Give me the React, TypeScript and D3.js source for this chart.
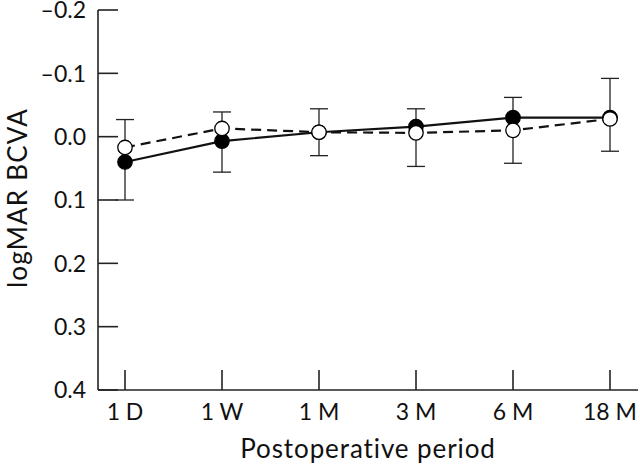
import React from "react";
import * as d3 from "d3";

const categories = ["1 D", "1 W", "1 M", "3 M", "6 M", "18 M"];
const filledSeries = [0.040, 0.007, -0.007, -0.016, -0.030, -0.030];
const openSeries = [0.017, -0.013, -0.007, -0.006, -0.010, -0.028];
const errTop = [-0.027, -0.039, -0.044, -0.044, -0.062, -0.092];
const errBottom = [0.100, 0.056, 0.030, 0.047, 0.042, 0.023];
const yTicks = [-0.2, -0.1, 0.0, 0.1, 0.2, 0.3, 0.4];

const W = 640;
const H = 467;
const left = 98;
const top = 10;
const bottom = 390;
const right = 638;

export default function App() {
  const x = d3.scalePoint<string>().domain(categories).range([125, 610]);
  const y = d3.scaleLinear().domain([-0.2, 0.4]).range([top, bottom]);
  const font = "Lato, 'Noto Sans', sans-serif";

  const line = d3
    .line<number>()
    .x((_, i) => x(categories[i]) as number)
    .y((d) => y(d));

  const fmt = (v: number) => {
    const s = Math.abs(v).toFixed(1);
    return v < 0 ? "\u2013" + s : s;
  };

  return (
    <svg
      width={W}
      height={H}
      style={{ position: "absolute", left: 0, top: 0, background: "#fff" }}
    >
      {/* axes */}
      <line x1={left} x2={left} y1={top} y2={bottom} stroke="#222" strokeWidth={1.6} />
      <line x1={left} x2={right} y1={bottom} y2={bottom} stroke="#222" strokeWidth={1.6} />
      {yTicks.map((t) => (
        <g key={t}>
          <line x1={left} x2={left + 20} y1={y(t)} y2={y(t)} stroke="#222" strokeWidth={1.6} />
          <text
            x={86}
            y={y(t)}
            dy="0.36em"
            textAnchor="end"
            fontFamily={font}
            fontSize={23}
            fill="#111"
          >
            {fmt(t)}
          </text>
        </g>
      ))}
      {categories.map((c) => (
        <g key={c}>
          <line
            x1={x(c)}
            x2={x(c)}
            y1={bottom}
            y2={bottom - 20}
            stroke="#222"
            strokeWidth={1.6}
          />
          <text
            x={x(c)}
            y={420}
            textAnchor="middle"
            fontFamily={font}
            fontSize={23}
            fill="#111"
          >
            {c}
          </text>
        </g>
      ))}
      <text
        x={(left + right) / 2}
        y={458}
        textAnchor="middle"
        fontFamily={font}
        fontSize={26}
        letterSpacing={0.9}
        fill="#111"
      >
        Postoperative period
      </text>
      <text
        transform={`translate(27, 198) rotate(-90)`}
        textAnchor="middle"
        fontFamily={font}
        fontSize={26}
        letterSpacing={1.2}
        fill="#111"
      >
        logMAR BCVA
      </text>

      {/* lines */}
      <path d={line(filledSeries) || ""} fill="none" stroke="#111" strokeWidth={2.2} />
      <path
        d={line(openSeries) || ""}
        fill="none"
        stroke="#111"
        strokeWidth={2.2}
        strokeDasharray="10 6"
      />

      {/* error bars */}
      {categories.map((c, i) => {
        const cx = x(c) as number;
        return (
          <g key={"e" + c} stroke="#222" strokeWidth={1.3}>
            <line x1={cx} x2={cx} y1={y(errTop[i])} y2={y(errBottom[i])} />
            <line x1={cx - 9} x2={cx + 9} y1={y(errTop[i])} y2={y(errTop[i])} />
            <line x1={cx - 9} x2={cx + 9} y1={y(errBottom[i])} y2={y(errBottom[i])} />
          </g>
        );
      })}

      {/* points */}
      {filledSeries.map((v, i) => (
        <circle
          key={"f" + i}
          cx={x(categories[i])}
          cy={y(v)}
          r={7.2}
          fill="#000"
          stroke="#000"
          strokeWidth={1.3}
        />
      ))}
      {openSeries.map((v, i) => (
        <circle
          key={"o" + i}
          cx={x(categories[i])}
          cy={y(v)}
          r={7.2}
          fill="#fff"
          stroke="#000"
          strokeWidth={1.3}
        />
      ))}
    </svg>
  );
}
